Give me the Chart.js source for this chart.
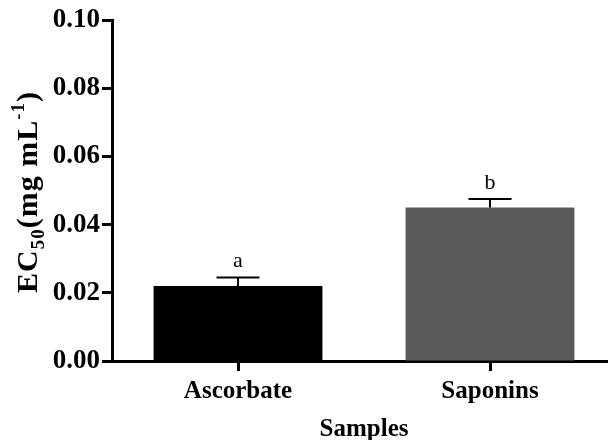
<!DOCTYPE html>
<html>
<head>
<meta charset="utf-8">
<script src="https://cdn.jsdelivr.net/npm/chart.js@4/dist/chart.umd.min.js"></script>
<style>
html,body{margin:0;padding:0;background:#fff;overflow:hidden;}
#wrap{width:616px;height:440px;}
</style>
</head>
<body>
<div id="wrap"><canvas id="c" width="616" height="440"></canvas></div>
<script>
const categories = ['Ascorbate', 'Saponins'];
const means = [0.022, 0.045];
const errors = [0.0025, 0.0025];
const letters = ['a', 'b'];
const barColors = ['#000000', '#5a5a5a'];
const yTicks = [0, 0.02, 0.04, 0.06, 0.08, 0.10];

const SERIF = "'Liberation Serif', 'Times New Roman', serif";

const errorPlugin = {
  id: 'errorBars',
  afterDatasetsDraw(chart) {
    const ctx = chart.ctx;
    const x = chart.scales.x, y = chart.scales.y;
    ctx.save();
    ctx.strokeStyle = '#000';
    ctx.lineWidth = 2;
    ctx.fillStyle = '#000';
    ctx.font = "22px " + SERIF;
    ctx.textAlign = 'center';
    ctx.textBaseline = 'alphabetic';
    means.forEach((m, i) => {
      const cx = x.getPixelForValue(i);
      const yTop = y.getPixelForValue(m + errors[i]);
      const yBar = y.getPixelForValue(m);
      ctx.beginPath();
      ctx.moveTo(cx, yBar);
      ctx.lineTo(cx, yTop);
      ctx.moveTo(cx - 21.5, yTop);
      ctx.lineTo(cx + 21.5, yTop);
      ctx.stroke();
      ctx.fillText(letters[i], cx, yTop - 10);
    });
    ctx.restore();
  }
};

const yTitlePlugin = {
  id: 'yTitle',
  afterDraw(chart) {
    const ctx = chart.ctx;
    ctx.save();
    ctx.translate(37, 293);
    ctx.rotate(-Math.PI / 2);
    ctx.fillStyle = '#000';
    ctx.textBaseline = 'alphabetic';
    ctx.textAlign = 'left';
    try { ctx.letterSpacing = '1px'; } catch (e) {}
    const big = "bold 30px " + SERIF;
    const small = "bold 19px " + SERIF;
    const parts = [
      {t: 'EC', f: big, dy: 0},
      {t: '50', f: small, dy: 7},
      {t: '(mg mL', f: big, dy: 0},
      {t: '-1', f: small, dy: -13},
      {t: ')', f: big, dy: 0}
    ];
    let xx = 0;
    parts.forEach(p => { ctx.font = p.f; ctx.fillText(p.t, xx, p.dy); xx += ctx.measureText(p.t).width; });
    ctx.restore();
  }
};

new Chart(document.getElementById('c'), {
  type: 'bar',
  data: {
    labels: categories,
    datasets: [{
      data: means,
      backgroundColor: barColors,
      borderWidth: 0,
      barPercentage: 0.67,
      categoryPercentage: 1.0
    }]
  },
  options: {
    responsive: false,
    animation: false,
    layout: { padding: { top: 20, left: 0, right: 0, bottom: 0 } },
    plugins: { legend: { display: false }, tooltip: { enabled: false } },
    scales: {
      y: {
        min: 0, max: 0.10,
        afterBuildTicks(scale) { scale.ticks = yTicks.map(v => ({ value: v })); },
        afterFit(scale) { scale.width = 112; },
        border: { display: true, color: '#000', width: 3 },
        grid: { drawOnChartArea: false, drawTicks: true, tickLength: 10, tickWidth: 3, tickColor: '#000' },
        ticks: {
          color: '#000', padding: 2,
          font: { family: SERIF, size: 27, weight: 'bold' },
          callback: v => Number(v).toFixed(2)
        }
      },
      x: {
        afterFit(scale) { scale.height = 79; },
        border: { display: true, color: '#000', width: 3 },
        grid: { offset: false, drawOnChartArea: false, drawTicks: true, tickLength: 10, tickWidth: 3, tickColor: '#000' },
        ticks: {
          color: '#000', padding: 6,
          font: { family: SERIF, size: 25, weight: 'bold' }
        },
        title: {
          display: true, text: 'Samples', color: '#000',
          font: { family: SERIF, size: 25, weight: 'bold' },
          padding: { top: 6, bottom: -5 }
        }
      }
    }
  },
  plugins: [errorPlugin, yTitlePlugin]
});
</script>
</body>
</html>
